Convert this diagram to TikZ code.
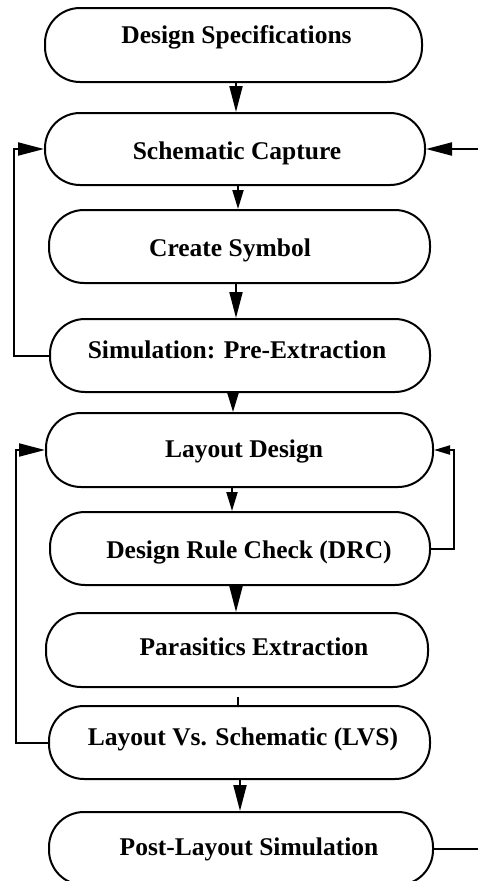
\documentclass[tikz,border=0pt]{standalone}
\usepackage{fontspec}
\setmainfont{Liberation Serif}
\usetikzlibrary{arrows.meta}
\begin{document}
\begin{tikzpicture}[x=1pt,y=-1pt,
  box/.style={draw=black,line width=2pt,rectangle,rounded corners=35pt,inner sep=0pt,fill=white},
  lbl/.style={font=\fontsize{25.5}{28}\selectfont\bfseries,inner sep=0pt,anchor=base},
  line/.style={line width=2pt},
  arr/.style={line width=2pt,-{Triangle[length=26pt,width=13pt]}},
  arrs/.style={line width=2pt,-{Triangle[length=19pt,width=11pt]}},
  arrt/.style={line width=2pt,-{Triangle[length=16pt,width=9pt]}}]
\clip (0,0) rectangle (478,881);
\fill[white] (0,0) rectangle (478,881);
% boxes
\node[box,minimum width=377pt,minimum height=74pt] (b1) at (233.5,45) {};
\node[box,minimum width=380pt,minimum height=72pt] (b2) at (235,149) {};
\node[box,minimum width=381pt,minimum height=73pt] (b3) at (239.5,246.5) {};
\node[box,minimum width=380pt,minimum height=73pt] (b4) at (240,355.5) {};
\node[box,minimum width=387pt,minimum height=74pt] (b5) at (239.5,450) {};
\node[box,minimum width=380pt,minimum height=73pt] (b6) at (240,548.5) {};
\node[box,minimum width=382pt,minimum height=74pt] (b7) at (237,650) {};
\node[box,minimum width=381pt,minimum height=73pt] (b8) at (239.5,742.5) {};
\node[box,minimum width=384pt,minimum height=73pt] (b9) at (241,848.5) {};
% labels
\node[lbl] (t1) at (236.5,43) {Design Specifications};
\node[lbl] (t2) at (237,159) {Schematic Capture};
\node[lbl] (t3) at (230,256) {Create Symbol};
\node[lbl] (t4) at (237,358) {Simulation: Pre-Extraction};
\node[lbl] (t5) at (244,457) {Layout Design};
\node[lbl] (t6) at (249,558) {Design Rule Check (DRC)};
\node[lbl] (t7) at (254,655) {Parasitics Extraction};
\node[lbl] (t8) at (243,745) {Layout Vs. Schematic (LVS)};
\node[lbl] (t9) at (249,855) {Post-Layout Simulation};
% helper coordinates
\coordinate (x12) at (236,0);
\coordinate (x23) at (238,0);
\coordinate (x34) at (236,0);
\coordinate (x45) at (233,0);
\coordinate (x56) at (232,0);
\coordinate (x67) at (236,0);
\coordinate (x89) at (240,0);
\coordinate (xl1) at (14,0);
\coordinate (xl2) at (16,0);
\coordinate (xr) at (454,0);
\coordinate (edge) at (478,0);
\coordinate (tick) at (238,697);
% vertical flow
\draw[arr] (b1.south -| x12) -- (b2.north -| x12);
\draw[arrs] (b2.south -| x23) -- (b3.north -| x23);
\draw[arr] (b3.south -| x34) -- (b4.north -| x34);
\draw[arrs] (b4.south -| x45) -- (b5.north -| x45);
\draw[arrs] (b5.south -| x56) -- (b6.north -| x56);
\draw[arr] (b6.south -| x67) -- (b7.north -| x67);
\draw[line] (tick) -- (b8.north -| tick);
\draw[arr] (b8.south -| x89) -- (b9.north -| x89);
% feedback loops
\draw[arr] (b4.west) -- (b4.west -| xl1) |- (b2.west);
\draw[arr] (b2.east -| edge) -- (b2.east);
\draw[arr] (b8.west) -- (b8.west -| xl2) |- (b5.west);
\draw[arrt] (b6.east) -- (b6.east -| xr) |- (b5.east);
\draw[line] (b9.east) -- (b9.east -| edge);
\end{tikzpicture}
\end{document}
